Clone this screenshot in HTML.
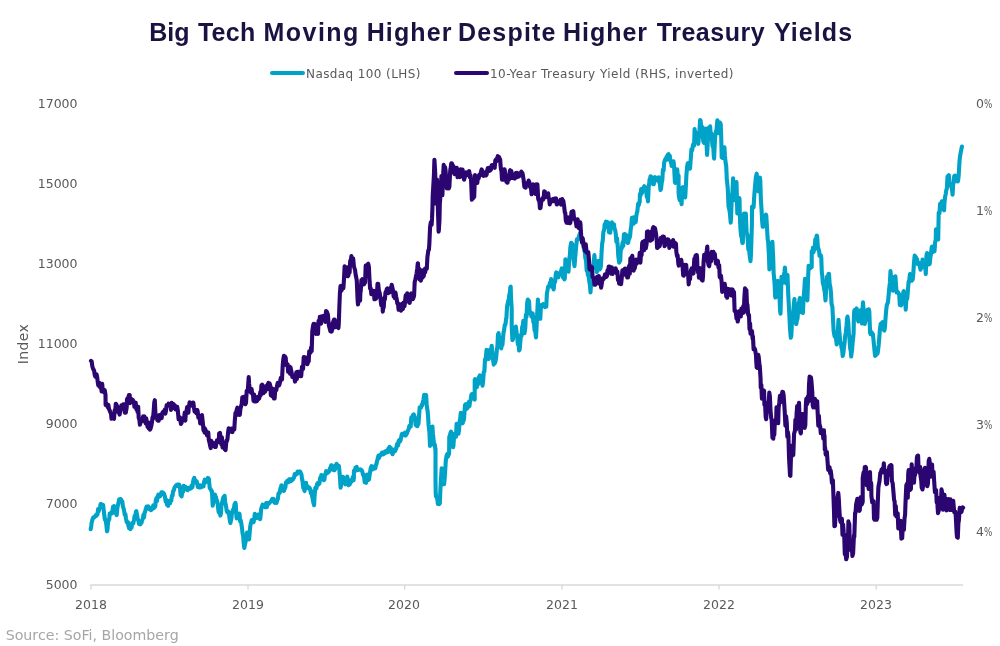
<!DOCTYPE html>
<html><head><meta charset="utf-8">
<style>
html,body{margin:0;padding:0;background:#fff;}
body{width:1000px;height:646px;position:relative;overflow:hidden;font-family:"DejaVu Sans","Liberation Sans",sans-serif;}
#title{position:absolute;left:0;top:14px;width:1000px;height:36px;font-family:"Liberation Sans",sans-serif;font-weight:bold;font-size:25px;color:#1b1242;white-space:nowrap;letter-spacing:0.87px;line-height:36px;}
.lg{position:absolute;top:65px;font-size:12px;color:#595959;white-space:nowrap;line-height:18px;letter-spacing:0.4px;}
.sw{position:absolute;top:70.9px;height:4.1px;border-radius:2px;width:35px;}
.yl{position:absolute;left:27px;width:50.5px;text-align:right;font-size:12.5px;color:#595959;line-height:14px;}
.yr{position:absolute;left:976px;font-size:12.5px;color:#595959;line-height:14px;}
.xl{position:absolute;top:597.5px;width:60px;text-align:center;font-size:12.5px;color:#595959;line-height:14px;}
#src{position:absolute;left:5.7px;top:625.8px;font-size:14.2px;color:#a6a6a6;line-height:18px;white-space:nowrap;}
#idx{position:absolute;left:22.6px;top:343.6px;font-size:14px;color:#595959;transform:translate(-50%,-50%) rotate(-90deg);white-space:nowrap;line-height:16px;letter-spacing:0.4px;}
svg{position:absolute;left:0;top:0;}
.pc{display:inline-block;transform:scaleX(.7);transform-origin:0 50%;}
#title span{position:absolute;top:0;}
</style></head><body>
<div id="title"><span style="left:149.3px;letter-spacing:-0.03px">Big</span> <span style="left:197.9px;letter-spacing:0.27px">Tech</span> <span style="left:263.6px;letter-spacing:1.43px">Moving</span> <span style="left:366.7px;letter-spacing:1.11px">Higher</span> <span style="left:458.0px;letter-spacing:1.20px">Despite</span> <span style="left:563.1px;letter-spacing:0.95px">Higher</span> <span style="left:656.8px;letter-spacing:0.50px">Treasury</span> <span style="left:773.9px;letter-spacing:1.11px">Yields</span></div>
<div class="sw" style="left:269.5px;background:#00a2c7;"></div><div class="lg" id="l1" style="left:306px;">Nasdaq 100 (LHS)</div>
<div class="sw" style="left:453.5px;background:#2c0670;"></div><div class="lg" id="l2" style="left:490px;letter-spacing:0.46px">10-Year Treasury Yield (RHS, inverted)</div>
<div class="yl" style="top:97px">17000</div>
<div class="yl" style="top:177px">15000</div>
<div class="yl" style="top:257px">13000</div>
<div class="yl" style="top:337px">11000</div>
<div class="yl" style="top:417px">9000</div>
<div class="yl" style="top:497px">7000</div>
<div class="yl" style="top:578px">5000</div>
<div class="yr" style="top:97px">0<span class="pc">%</span></div>
<div class="yr" style="top:204px">1<span class="pc">%</span></div>
<div class="yr" style="top:311.4px">2<span class="pc">%</span></div>
<div class="yr" style="top:417.9px">3<span class="pc">%</span></div>
<div class="yr" style="top:525.4px">4<span class="pc">%</span></div>
<div class="xl" style="left:61px">2018</div>
<div class="xl" style="left:218px">2019</div>
<div class="xl" style="left:374px">2020</div>
<div class="xl" style="left:532px">2021</div>
<div class="xl" style="left:689px">2022</div>
<div class="xl" style="left:846px">2023</div>
<div id="idx">Index</div>
<div id="src">Source: SoFi, Bloomberg</div>
<svg width="1000" height="646" viewBox="0 0 1000 646">
<g stroke="#d9d9d9" fill="none">
<path d="M90.3 585H963" stroke-width="1.6"/>
<path d="M91 585v4.5M248 585v4.5M404.7 585v4.5M562 585v4.5M719 585v4.5M876.2 585v4.5" stroke-width="1.4"/>
</g>
<!--LINES--><path d="M90.7 529.2 91.3 525.6 91.6 522.9 91.9 521.7 92.5 519.2 93.2 517.5 93.8 517.3 94.1 517.6 94.4 516.8 95.0 516.7 95.6 515.4 96.3 515.9 97.1 513.9 97.5 514.5 98.1 509.0 98.7 511.2 99.4 508.4 100.0 507.8 100.6 504.0 101.3 504.2 101.8 505.5 102.5 506.1 103.1 504.9 103.7 510.1 104.3 515.4 104.9 519.7 105.6 519.5 106.2 523.6 107.0 531.3 107.4 530.7 108.0 522.5 108.7 520.2 109.3 519.1 109.7 513.5 110.5 513.8 111.1 512.6 111.8 513.5 112.2 513.1 113.0 506.8 113.6 508.5 114.0 506.0 114.2 508.0 114.9 507.7 115.5 512.9 116.1 511.4 116.4 514.6 116.7 515.1 117.3 508.3 118.0 504.9 118.8 501.1 119.2 499.3 119.8 501.2 120.4 499.0 121.0 499.4 121.7 501.9 122.3 501.5 122.9 506.6 123.6 508.4 124.2 511.4 124.8 514.8 125.4 514.2 126.0 518.6 126.7 522.0 127.3 522.8 127.9 522.1 128.5 526.2 129.1 528.2 129.7 528.6 130.4 529.1 131.0 527.0 131.6 527.6 132.2 523.0 132.8 522.6 133.3 523.3 134.1 519.4 134.7 515.7 135.3 517.4 135.9 511.7 136.3 511.2 137.2 515.9 137.8 519.4 138.4 520.6 139.0 523.9 139.3 523.6 139.7 522.1 140.3 524.3 140.9 521.0 141.5 522.7 142.1 520.3 143.0 518.4 143.4 514.8 144.0 517.5 144.6 512.7 145.2 511.5 145.9 508.6 146.6 506.6 147.1 508.5 147.7 507.8 148.3 506.3 149.0 508.8 149.6 508.2 150.2 509.3 150.8 510.1 151.4 507.9 152.1 509.3 152.7 507.9 153.3 505.3 153.9 508.1 154.4 506.4 155.2 506.6 155.8 500.3 156.4 498.2 157.0 500.9 157.4 497.3 158.3 494.6 158.9 496.8 159.5 496.1 160.1 496.2 160.7 494.7 161.1 493.3 161.4 492.4 162.0 492.4 162.6 492.4 163.2 492.8 164.1 493.8 164.5 495.2 165.1 497.6 165.7 501.6 166.3 499.9 167.1 504.9 167.6 504.9 168.2 505.8 168.8 503.6 169.4 500.8 170.0 503.3 170.7 501.2 171.3 500.8 171.9 495.7 172.5 495.9 173.1 491.3 173.8 490.6 174.4 487.9 175.0 486.8 175.6 486.3 176.2 485.2 176.9 484.8 177.5 484.6 178.1 486.1 178.6 484.5 179.3 484.7 180.0 487.6 180.6 495.2 181.2 495.4 181.6 496.3 182.4 491.5 183.1 491.7 183.7 485.9 184.0 486.4 184.3 488.5 184.9 488.6 185.5 486.8 186.2 488.4 186.8 489.6 187.6 490.2 188.0 488.6 188.6 487.8 189.3 487.7 189.9 488.7 190.5 488.8 191.2 488.2 191.7 485.4 192.4 487.2 193.0 482.7 193.6 479.4 194.3 477.9 194.8 480.7 195.5 481.8 196.1 481.0 196.7 481.4 197.3 484.7 197.9 487.0 198.6 485.9 199.2 487.5 199.8 485.3 200.4 485.8 201.0 487.4 201.7 485.5 202.1 486.4 202.9 485.2 203.5 486.4 204.1 481.7 204.8 479.7 205.4 482.4 205.9 480.5 206.6 481.3 207.2 481.1 207.9 477.9 208.5 478.4 208.9 479.1 209.7 487.9 210.1 488.4 211.0 489.9 211.6 491.6 211.9 491.2 212.2 495.5 212.7 505.6 213.4 502.6 214.1 499.0 214.9 494.5 215.3 497.8 215.9 496.9 216.7 500.5 217.2 501.0 217.8 504.7 218.5 511.4 219.0 512.6 219.6 511.2 220.4 515.6 220.9 513.5 221.5 504.6 222.2 502.4 222.7 500.1 223.4 497.2 224.0 499.4 224.6 495.8 225.2 502.8 225.8 504.9 226.6 510.1 227.1 511.8 227.7 512.7 228.3 511.5 228.8 512.3 229.6 519.1 230.4 523.0 230.8 521.0 231.4 518.5 232.0 512.1 232.7 512.2 233.0 509.8 233.9 509.0 234.5 504.3 235.1 505.8 235.4 502.7 235.8 504.8 236.4 516.3 236.7 518.4 237.0 515.2 237.6 516.2 238.2 516.5 239.1 514.4 239.5 513.7 240.1 521.1 240.7 520.4 241.5 524.7 242.0 528.2 242.6 533.7 243.1 535.2 243.8 544.0 244.3 547.9 245.1 543.9 245.7 541.3 246.3 538.4 247.0 532.5 247.5 535.1 248.2 538.1 248.8 537.3 249.1 539.4 249.4 535.5 250.2 526.8 250.6 524.4 251.3 521.7 251.7 520.0 252.5 521.3 253.1 521.2 253.6 522.2 254.4 517.7 254.8 513.9 255.6 514.8 256.2 515.2 256.8 517.8 257.2 517.3 257.5 517.5 258.1 516.2 258.4 514.5 258.7 514.3 259.3 518.8 259.9 518.4 260.2 519.1 260.6 515.5 261.2 508.8 261.8 506.9 262.6 504.6 263.0 505.3 263.7 505.6 264.3 505.8 265.0 507.1 265.5 505.9 266.1 503.1 266.8 507.1 267.4 503.0 268.0 503.9 268.6 503.9 269.2 503.1 269.9 502.4 270.5 501.8 271.1 501.2 271.7 500.1 272.3 499.0 273.0 499.9 273.5 498.8 274.2 502.0 274.8 502.9 275.4 500.5 276.1 500.7 276.5 503.0 277.3 500.0 277.9 498.8 278.5 493.4 278.9 493.4 279.8 492.8 280.4 488.2 281.0 487.4 281.3 485.5 281.6 485.3 282.3 487.9 282.9 489.1 283.7 490.9 284.1 490.7 284.7 488.4 285.4 487.2 286.0 482.3 286.8 482.3 287.2 480.9 287.8 481.6 288.5 482.2 289.1 479.3 289.7 480.0 290.4 480.5 290.9 481.1 291.6 479.1 292.2 479.9 292.8 479.6 293.4 478.3 294.0 477.7 294.7 474.0 295.2 474.9 295.9 474.9 296.5 473.7 297.1 473.9 297.6 471.5 298.4 472.8 299.0 472.8 299.6 471.5 300.2 471.6 300.6 472.5 301.5 474.8 302.1 480.0 302.4 479.6 302.7 482.9 303.3 487.9 304.0 487.5 304.3 490.3 304.6 491.0 305.2 486.7 305.8 486.6 306.1 482.8 306.4 486.7 307.1 485.9 307.9 488.1 308.3 487.1 308.9 488.4 309.5 487.6 310.3 489.7 310.8 493.1 311.4 491.3 312.0 495.6 312.7 499.2 313.3 502.5 314.1 505.2 314.5 497.1 315.3 487.9 315.7 487.5 316.4 488.4 317.1 484.1 317.6 483.2 318.2 483.0 318.8 484.3 319.5 483.1 320.1 478.0 320.7 477.9 321.3 475.1 321.9 478.3 322.6 476.6 323.2 476.2 323.7 480.2 324.4 479.5 325.0 474.4 325.7 474.3 326.1 471.1 326.9 471.4 327.5 472.8 328.1 472.5 328.5 471.3 329.4 471.0 330.0 468.2 330.6 469.7 331.0 466.0 331.2 465.4 331.9 465.4 332.5 467.7 333.1 466.9 333.7 470.2 334.0 470.1 334.3 470.2 335.0 469.2 335.6 465.2 336.2 466.9 336.6 463.7 337.4 466.2 338.1 466.0 338.8 465.9 339.3 469.6 339.9 476.7 340.6 487.6 341.2 485.1 341.8 480.2 342.4 476.7 343.0 476.7 343.6 477.8 344.3 481.9 344.9 482.2 345.4 484.3 346.1 481.3 346.7 478.6 347.3 476.7 348.0 480.9 348.5 485.2 349.2 481.5 349.8 484.4 350.5 480.2 351.1 481.9 351.5 480.3 352.3 479.8 352.9 476.9 353.6 480.3 353.9 478.0 353.9 470.7 354.8 471.4 355.4 467.9 356.0 467.4 356.7 467.0 356.9 468.1 357.3 469.5 357.9 470.0 358.5 469.4 359.1 469.7 359.9 469.5 360.4 469.4 361.0 469.6 361.6 470.3 362.2 471.1 363.0 474.9 363.5 474.3 364.1 477.0 364.7 482.3 365.4 482.4 366.0 482.8 366.6 475.9 367.2 474.7 367.8 475.3 368.4 479.9 369.0 479.4 369.7 474.5 370.3 470.9 370.8 467.8 371.5 466.2 372.2 468.6 372.8 469.3 373.4 466.8 374.0 468.6 374.4 468.5 375.3 468.5 375.9 464.9 376.5 464.0 377.1 460.8 377.4 460.3 377.7 458.4 378.4 455.7 379.0 458.1 379.6 455.4 380.2 455.7 381.1 454.5 381.5 453.6 382.1 452.5 382.7 452.6 383.3 454.3 383.9 453.9 384.7 452.0 385.2 453.2 385.8 451.1 386.4 450.8 387.0 451.3 387.7 452.2 388.3 448.6 388.9 449.4 389.5 446.8 390.1 450.4 390.8 447.9 391.4 452.6 392.0 451.2 392.5 454.2 393.2 452.2 393.9 449.6 394.5 449.7 395.1 451.2 395.7 449.4 396.2 448.7 397.0 444.0 397.6 444.5 398.2 445.3 398.6 441.1 399.4 439.9 400.1 441.3 400.7 439.7 401.3 436.6 401.6 435.1 401.9 434.0 402.5 433.8 403.2 435.0 403.8 434.6 404.6 435.2 405.0 432.5 405.6 435.6 406.3 434.1 406.9 433.6 407.5 431.7 408.2 430.1 408.7 429.1 409.4 425.8 410.0 426.7 410.7 426.5 411.3 417.6 411.8 417.0 412.5 416.6 413.1 414.9 413.7 414.4 414.3 415.8 414.9 417.3 415.6 424.7 416.2 422.5 416.5 425.7 416.8 425.7 417.4 426.2 418.0 424.4 418.5 423.8 419.3 412.5 419.7 407.2 420.5 407.5 421.1 407.5 421.8 404.7 422.2 405.5 423.0 401.5 423.4 399.6 424.2 394.8 424.9 398.2 425.5 397.3 426.1 395.0 426.7 404.4 427.3 409.4 427.6 411.0 428.0 415.3 428.6 424.9 429.4 432.2 430.0 445.9 430.4 443.5 431.1 438.0 431.7 431.0 432.4 426.5 432.9 433.2 433.6 440.2 434.2 445.4 434.8 444.5 435.4 450.2 435.5 448.4 435.5 479.8 435.7 493.2 436.0 496.5 436.6 496.8 437.3 498.9 437.9 503.9 438.5 503.0 439.1 504.1 439.8 503.3 440.4 489.6 440.8 481.9 441.7 468.2 442.2 469.9 442.8 475.4 443.5 477.3 444.1 484.3 444.7 477.7 445.4 467.4 445.9 459.5 446.6 455.8 447.2 454.2 447.8 456.7 448.4 455.2 449.1 453.6 449.3 436.6 449.7 437.2 450.3 433.5 451.1 431.7 451.5 436.0 452.1 440.1 453.0 447.3 453.4 446.0 454.2 434.0 454.6 433.6 455.2 435.4 456.0 436.7 456.6 423.8 457.1 428.4 457.7 428.1 458.4 433.8 459.0 430.4 459.6 421.4 460.2 418.6 460.8 412.8 461.4 417.4 462.1 420.8 462.6 423.3 463.3 421.4 463.9 419.5 464.4 413.7 465.0 405.0 465.8 404.1 466.4 408.9 467.0 405.8 467.4 408.3 468.3 404.9 468.9 401.8 469.5 406.1 469.9 402.2 470.1 401.7 470.7 399.4 471.4 394.8 472.0 394.0 472.3 394.1 472.6 395.3 473.2 394.9 473.8 397.0 474.7 399.6 474.7 380.0 475.1 379.2 475.7 386.8 476.3 383.1 476.8 387.3 477.6 381.0 478.2 384.0 478.8 377.1 479.4 377.1 479.8 375.4 480.7 375.7 481.3 381.1 481.9 381.0 482.5 385.7 483.1 381.4 483.8 371.8 484.4 371.4 485.0 359.4 485.6 360.4 486.5 349.9 486.9 350.4 487.5 355.4 488.1 357.2 488.9 358.8 489.3 354.6 490.0 349.5 490.6 354.1 491.2 350.7 491.7 345.8 492.4 352.7 493.1 359.8 493.7 364.6 494.3 361.8 494.9 363.1 495.5 361.3 496.1 357.8 496.8 350.4 497.4 346.4 498.0 334.4 498.6 333.2 499.3 340.1 499.9 338.3 500.5 340.9 501.3 348.4 501.7 344.4 502.4 345.0 503.0 338.2 503.6 332.0 504.0 330.8 504.8 324.9 505.5 324.4 506.1 318.7 506.4 318.4 506.7 312.5 507.1 306.2 507.9 302.4 508.6 299.6 508.9 300.0 509.2 295.2 509.8 292.9 510.4 286.9 510.7 286.7 511.0 297.6 511.7 308.2 511.7 326.0 512.4 340.1 512.9 339.6 513.5 332.7 514.1 332.7 514.8 334.1 515.4 329.0 515.8 326.6 516.6 332.2 517.2 336.8 517.9 344.2 518.5 342.5 519.1 350.5 519.7 349.5 520.3 341.8 521.0 334.8 521.6 335.8 522.2 326.6 522.8 326.0 523.3 320.9 524.1 332.1 524.5 333.1 525.3 328.0 525.9 314.8 526.5 317.0 527.2 302.9 527.8 299.6 528.4 306.4 529.0 301.1 529.6 311.2 530.3 313.8 530.6 313.1 530.9 312.3 531.5 316.8 532.1 315.2 532.7 313.5 533.0 317.2 533.4 322.3 534.0 323.1 534.6 330.4 535.2 330.9 536.0 337.5 536.5 328.0 537.1 316.1 537.9 299.5 538.3 307.6 538.9 306.6 539.6 310.0 540.3 318.8 540.8 308.7 541.5 304.9 542.0 304.8 542.7 305.6 543.3 304.1 543.9 306.2 544.5 306.1 545.1 307.1 545.8 305.5 546.3 306.6 546.9 293.4 547.6 289.9 548.2 286.5 548.9 286.7 549.3 285.7 550.1 282.3 550.7 285.3 551.1 279.1 552.0 287.0 552.6 286.3 553.2 286.4 553.6 289.4 553.8 288.4 554.4 281.0 555.1 282.0 555.7 274.6 556.0 273.1 556.3 272.3 556.9 276.4 557.5 273.7 558.4 277.3 558.8 274.0 559.4 274.7 560.0 272.5 560.6 274.4 561.4 269.5 561.9 268.3 562.5 273.0 563.1 277.7 563.7 275.2 564.4 279.4 564.8 278.5 565.4 259.3 566.2 264.0 566.8 262.1 567.5 262.6 568.1 268.9 568.5 271.8 569.3 258.8 569.9 255.2 570.3 247.9 570.6 245.9 571.2 242.7 571.8 246.4 572.1 243.7 572.4 248.6 573.0 250.2 573.7 260.4 574.5 266.1 574.9 261.2 575.5 253.8 576.1 246.8 576.9 239.3 577.4 240.2 578.0 239.8 578.6 237.6 579.3 235.2 579.9 233.4 580.5 233.6 581.1 236.7 581.5 237.5 582.3 237.5 583.0 243.2 583.5 245.9 584.2 250.6 584.8 251.4 585.3 257.8 586.1 261.0 586.7 270.7 587.0 270.4 587.3 270.5 587.9 274.8 588.7 276.6 589.2 280.9 589.8 284.1 590.5 292.4 591.0 285.4 591.6 275.1 592.0 267.6 592.3 266.4 592.9 268.1 593.5 264.6 594.1 258.4 594.4 255.1 594.7 259.2 595.4 262.9 596.0 266.3 596.8 272.3 597.2 270.6 597.8 268.9 598.6 260.7 599.1 263.4 599.7 269.5 600.4 268.3 600.9 265.8 601.7 250.2 602.2 243.3 602.8 240.2 603.4 231.7 604.1 230.3 604.7 224.2 605.3 225.3 605.9 221.6 606.5 227.0 607.1 225.3 607.7 222.2 608.4 223.0 609.0 232.3 609.5 232.4 610.2 232.7 610.9 227.0 611.5 225.0 611.9 222.3 612.7 226.1 613.3 224.2 614.0 224.2 614.3 227.7 615.2 230.4 615.8 234.0 616.4 241.8 617.1 238.4 617.3 241.4 617.7 245.5 618.3 256.3 619.2 262.6 619.5 258.0 620.2 260.8 620.8 248.6 621.6 248.9 622.0 246.9 622.6 242.4 623.3 245.9 623.9 234.2 624.6 235.0 625.1 234.2 625.7 238.0 626.4 235.3 627.0 241.1 627.6 243.0 628.2 242.7 628.8 238.7 629.5 238.2 630.1 235.8 630.6 230.2 631.3 225.9 631.9 217.8 632.4 217.9 633.2 217.3 633.8 223.7 634.2 222.9 635.0 219.6 635.7 222.0 636.3 215.9 636.9 212.4 637.3 211.8 638.1 203.9 638.8 205.2 639.4 201.6 639.7 202.1 639.9 194.0 640.6 195.4 641.2 189.0 641.9 193.2 642.5 190.9 642.9 190.8 643.7 187.2 644.3 186.2 645.0 188.0 645.6 190.4 646.0 187.5 646.8 196.8 647.4 195.6 648.0 201.4 648.7 186.9 649.3 182.4 649.6 179.3 649.9 180.4 650.5 176.3 651.4 177.8 651.8 177.4 652.4 177.4 653.0 184.1 653.8 184.2 654.3 179.8 654.9 179.2 655.3 177.2 656.1 179.4 656.7 178.8 657.4 180.3 658.0 177.6 658.6 177.4 659.2 182.3 659.8 183.1 660.5 190.0 661.0 189.1 661.7 182.7 662.3 180.3 662.9 169.8 663.6 170.7 664.2 162.4 664.8 160.6 665.4 159.1 665.9 159.7 666.7 156.4 667.3 159.6 667.9 154.5 668.5 154.2 669.1 159.5 669.5 155.6 669.8 155.7 670.4 160.6 671.0 162.7 671.3 163.2 671.6 166.0 672.2 166.0 672.9 165.1 673.5 161.3 673.7 162.6 674.1 166.6 674.9 182.0 675.3 182.8 676.0 172.9 676.7 170.1 677.2 169.3 677.8 176.6 678.6 175.6 678.6 193.3 679.1 197.4 679.7 200.1 680.3 199.3 680.9 199.0 681.6 204.2 682.2 187.7 682.8 187.1 683.4 193.8 684.0 195.4 684.6 194.5 685.2 197.4 685.9 185.5 686.4 175.2 687.1 166.8 687.7 163.4 688.2 163.6 689.0 162.9 689.6 168.7 690.0 168.7 690.8 158.6 691.4 149.3 692.1 150.5 692.7 146.8 693.3 144.0 694.1 145.7 694.6 129.1 695.2 135.8 695.8 140.6 696.4 132.5 697.0 138.0 697.3 142.3 697.7 140.7 698.3 143.8 699.0 135.8 699.5 130.7 700.1 120.0 700.6 120.6 701.4 128.2 702.2 127.0 702.6 132.7 703.3 141.4 703.9 142.8 704.5 139.9 705.1 131.7 705.5 128.5 706.3 139.9 707.1 154.9 707.6 145.6 708.2 132.8 708.7 127.9 709.4 131.1 710.1 126.3 710.7 134.1 711.4 133.5 711.9 138.9 712.5 146.2 713.2 146.0 713.8 155.9 714.1 158.6 715.0 138.7 715.8 131.5 716.3 133.0 716.9 125.5 717.4 120.2 718.1 124.8 718.5 131.8 718.7 133.1 719.4 127.6 720.0 122.5 720.7 124.1 721.2 137.2 721.7 157.5 722.5 157.9 723.1 152.0 723.7 151.2 724.4 147.3 724.9 155.2 725.5 161.9 726.2 165.9 726.8 179.1 727.4 184.9 727.7 187.6 728.0 192.7 728.5 206.3 729.3 209.3 729.9 213.0 730.7 222.7 731.1 216.3 731.9 194.3 732.4 193.3 733.1 178.2 733.6 188.6 734.3 200.3 734.9 196.8 735.5 185.2 736.1 187.7 736.5 182.1 737.3 213.5 738.0 206.0 738.6 208.0 739.2 198.1 739.5 198.7 739.8 214.0 740.4 228.1 741.1 235.8 741.7 237.0 742.3 242.9 742.8 242.9 743.5 222.5 744.0 213.6 744.8 215.3 745.4 213.7 745.8 213.6 746.6 232.9 747.3 234.2 747.9 242.1 748.3 249.5 749.1 249.2 749.7 255.7 750.5 261.2 751.0 253.5 751.6 233.7 751.9 224.7 752.0 206.8 752.2 206.5 752.8 206.5 753.6 207.5 754.1 198.2 754.8 189.0 755.3 183.7 755.9 176.9 756.7 173.7 757.2 183.2 757.9 189.9 758.4 191.4 759.0 185.8 759.7 182.4 759.9 177.6 760.3 181.1 760.9 200.2 761.5 208.9 762.1 220.5 762.7 226.7 763.4 226.6 764.0 224.3 764.5 221.0 765.2 219.8 765.9 214.5 766.3 215.6 767.1 229.5 767.7 239.6 768.1 240.9 769.0 256.5 769.4 269.5 770.2 250.6 770.6 243.5 771.4 243.3 772.1 243.7 772.4 241.8 773.3 260.6 773.6 272.8 773.9 275.9 774.5 282.5 775.2 296.5 775.4 297.5 775.8 296.9 776.4 290.9 777.0 283.1 777.9 280.8 778.3 285.6 778.9 290.8 779.5 296.9 780.1 310.7 780.5 313.6 781.5 276.7 782.0 282.6 782.7 282.9 783.2 282.7 783.8 276.5 784.5 271.5 784.9 267.5 785.7 276.8 786.3 283.4 786.9 276.8 787.5 274.9 788.2 293.6 788.7 302.8 789.4 316.2 790.0 328.6 790.8 337.7 791.3 336.0 791.9 323.7 792.5 322.7 793.1 314.5 793.8 305.1 794.4 299.1 795.0 308.5 795.6 318.6 796.2 324.0 796.9 320.3 797.5 318.8 798.1 311.3 798.7 303.5 799.3 301.2 799.8 298.1 800.6 306.3 801.2 304.0 801.8 312.5 802.4 311.4 802.9 313.0 803.7 296.8 804.3 289.6 805.0 278.9 805.5 284.9 806.2 288.2 806.8 298.6 807.4 300.3 808.0 280.5 808.6 265.9 809.3 266.1 809.9 266.9 810.5 268.2 811.1 267.0 811.7 267.2 811.7 251.3 812.4 253.2 813.0 247.5 813.6 252.1 814.2 247.5 814.7 249.4 815.3 239.3 816.1 240.3 816.7 235.6 817.1 236.1 817.9 247.3 818.6 249.3 819.2 251.7 819.5 255.8 819.8 255.0 820.4 254.9 821.0 255.7 821.3 258.1 821.7 269.8 821.9 273.5 822.3 275.6 822.9 283.6 823.5 285.1 824.1 288.6 824.8 292.4 825.5 300.5 826.0 291.4 826.6 282.8 827.0 276.7 827.9 277.9 828.5 273.8 829.0 273.8 829.7 284.3 830.3 286.7 831.0 293.2 831.5 303.4 832.4 307.0 832.8 315.0 833.6 330.6 834.1 333.7 834.7 336.5 835.3 336.7 835.9 337.4 836.7 344.5 837.2 337.3 837.8 331.5 838.5 319.7 839.0 327.6 839.6 334.1 840.3 342.8 840.9 343.2 841.5 347.6 842.1 349.7 842.7 356.0 843.4 352.9 844.0 347.0 844.6 342.5 845.1 336.4 845.8 332.5 846.5 325.9 847.1 318.5 847.5 316.6 848.3 322.5 848.9 334.4 849.3 336.2 850.2 348.5 850.8 351.0 851.2 356.5 851.4 354.1 852.0 350.4 852.7 341.8 853.3 336.8 853.6 333.6 853.9 318.1 854.2 311.6 854.5 310.2 855.1 311.1 855.8 312.6 856.6 308.4 857.0 310.5 857.6 318.3 858.4 321.4 858.9 318.2 859.5 318.0 860.1 312.7 860.8 310.0 861.3 315.7 862.0 323.5 862.6 308.6 863.0 302.4 863.8 313.5 864.4 320.2 864.8 323.9 865.1 322.5 865.7 320.2 866.3 318.5 866.8 312.0 867.5 309.9 868.2 310.2 868.8 309.3 869.3 311.5 870.1 333.0 870.6 334.2 871.3 331.9 871.9 332.8 872.5 334.3 872.9 334.1 873.7 342.0 874.4 349.3 875.1 355.9 875.6 355.7 876.2 354.5 876.8 352.3 877.5 353.7 877.9 351.6 878.7 344.7 879.3 337.5 879.9 329.6 880.7 323.7 881.2 324.8 881.8 323.0 882.5 322.2 883.0 323.9 883.7 329.5 884.4 330.5 884.9 327.5 885.5 318.6 886.2 310.1 886.8 305.3 887.4 303.7 888.0 302.0 888.7 294.5 889.2 288.6 889.9 282.7 890.5 271.1 891.1 279.5 891.7 276.4 892.3 283.3 892.9 290.7 893.6 288.9 894.2 283.7 894.8 282.1 895.4 276.2 896.1 286.6 896.7 292.5 897.2 292.2 897.9 292.0 898.5 293.1 899.2 294.5 899.8 305.0 900.4 299.2 901.1 305.4 901.6 304.0 902.3 299.1 902.9 294.8 903.5 291.7 903.8 291.1 904.1 298.0 904.7 302.3 905.4 302.2 905.7 309.7 906.0 305.2 906.6 297.0 907.2 298.8 907.8 291.9 908.6 281.6 909.1 282.0 909.9 274.3 910.3 273.8 910.9 280.7 911.6 280.7 912.3 280.0 912.8 279.0 913.4 272.2 914.0 262.5 914.7 255.6 915.3 258.2 915.9 257.0 916.5 258.9 917.1 259.4 917.8 264.1 918.3 263.4 919.0 262.9 919.6 264.3 920.5 269.7 920.9 267.1 921.5 267.9 922.1 266.3 922.5 259.6 923.3 263.6 924.0 263.6 924.3 263.0 925.2 265.1 925.8 274.0 926.4 256.2 926.8 253.8 927.1 253.2 927.7 254.9 928.3 257.5 928.9 264.4 929.8 263.6 930.2 258.3 930.8 255.1 931.6 248.1 932.0 246.5 932.6 250.8 933.3 251.8 934.0 250.8 934.5 251.1 935.1 242.5 935.8 239.4 935.9 229.3 936.4 229.1 937.0 238.9 937.6 234.2 938.2 239.4 938.7 212.9 939.5 213.2 940.1 203.8 940.7 209.6 941.3 204.7 941.8 201.2 942.6 202.9 943.2 203.4 943.8 209.0 944.1 210.3 944.4 203.9 945.0 197.4 945.7 194.1 946.3 190.0 946.9 188.7 947.5 176.7 948.0 176.2 948.8 175.2 949.4 181.3 950.0 185.4 950.3 185.2 950.6 183.7 951.2 186.0 951.9 188.6 952.6 194.7 953.1 184.3 953.7 182.3 954.2 176.1 955.0 175.7 955.6 179.7 956.2 177.4 956.8 177.9 957.4 181.5 958.0 181.3 958.7 175.4 959.3 164.6 959.6 160.7 959.9 157.3 960.5 153.6 961.2 150.1 961.9 146.6" fill="none" stroke="#00a2c7" stroke-width="4.1" stroke-linejoin="round" stroke-linecap="round"/>
<path d="M91.0 360.9 91.7 361.5 92.3 366.2 92.8 368.0 93.5 369.6 94.1 370.6 94.7 374.8 95.4 376.7 96.0 374.3 96.6 374.3 97.1 376.8 97.9 383.3 98.3 385.5 99.1 386.0 99.7 383.0 100.3 387.8 101.0 388.1 101.3 385.0 101.6 391.5 102.2 383.8 102.8 391.2 103.1 391.4 103.4 391.8 104.1 390.0 104.7 390.0 105.5 394.9 105.6 405.0 105.9 403.3 106.5 403.4 107.2 405.5 107.8 407.4 108.4 405.1 109.1 409.4 109.6 410.2 110.3 412.2 111.0 413.8 111.5 418.8 112.1 417.5 112.8 417.0 113.4 418.4 114.0 418.8 114.6 410.4 115.2 411.5 115.8 403.7 116.4 404.5 117.1 406.0 117.7 408.6 118.2 412.1 118.9 411.7 119.6 414.6 120.2 411.4 120.6 410.2 121.4 405.3 121.8 406.2 122.7 405.8 123.3 404.4 123.9 405.8 124.5 404.4 124.8 412.5 125.1 412.7 125.8 412.7 126.4 409.1 126.7 407.3 127.0 399.2 127.9 397.9 128.2 398.1 128.9 395.1 129.7 395.0 130.1 403.1 130.7 398.5 131.5 401.9 132.0 400.4 132.6 399.7 133.2 400.6 133.9 402.0 134.4 406.7 135.1 405.3 135.7 402.8 136.3 409.1 136.9 406.3 137.5 411.8 138.2 406.8 138.7 417.9 139.4 419.9 139.9 424.8 140.6 421.9 141.3 419.6 141.9 421.3 142.3 420.3 143.1 416.4 143.7 418.0 144.4 416.3 144.8 419.9 145.6 423.3 146.2 418.3 146.8 421.8 147.2 423.9 147.5 426.7 148.1 422.5 148.7 428.4 149.0 427.8 149.3 422.9 149.9 429.6 150.6 428.4 151.4 425.4 151.8 423.2 152.6 417.1 153.0 418.8 153.7 410.9 154.3 402.3 154.8 400.2 155.5 414.8 156.2 415.6 156.8 417.6 157.4 420.2 158.0 420.7 158.6 420.8 159.2 415.1 159.9 418.9 160.5 417.0 161.1 417.0 161.7 418.0 162.3 413.0 163.0 412.0 163.5 413.8 164.2 410.9 164.8 409.6 165.4 413.7 165.9 411.2 166.7 405.0 167.3 405.0 167.7 405.7 168.5 403.7 169.2 404.2 169.8 405.5 170.4 406.0 170.7 406.2 171.0 409.9 171.6 402.7 172.3 404.0 172.9 407.9 173.5 404.0 174.3 408.1 174.7 405.2 175.4 409.5 176.0 409.0 176.8 408.5 177.2 406.8 177.8 410.3 178.6 419.2 179.1 417.4 179.7 417.4 180.3 419.5 180.9 423.9 181.6 422.8 182.2 418.3 182.8 418.3 183.4 418.8 184.0 419.7 184.7 412.6 185.3 420.6 185.9 412.2 186.4 411.8 187.1 407.1 187.8 411.0 188.4 412.7 188.8 407.2 189.6 402.2 190.2 404.2 190.9 403.5 191.2 403.7 192.1 405.7 192.7 402.6 193.3 402.6 194.0 407.8 194.3 409.6 194.6 411.6 195.2 411.8 195.8 409.8 196.4 413.3 197.3 410.0 197.7 411.4 198.3 417.6 199.1 417.1 199.5 415.9 200.2 423.4 200.8 418.4 201.4 423.5 202.0 415.1 202.7 421.5 203.5 430.2 203.9 427.4 204.5 432.6 205.1 428.7 205.9 431.8 206.4 431.3 207.0 435.4 207.6 432.5 208.3 432.6 208.8 439.9 209.5 442.6 210.1 445.6 210.7 448.1 211.3 440.8 211.9 444.0 212.6 444.5 213.1 442.7 213.8 444.3 214.4 446.4 215.0 447.0 215.7 447.0 216.1 445.0 216.9 440.3 217.5 441.3 217.9 442.0 218.8 441.8 219.1 433.5 220.0 432.9 220.6 437.9 221.0 438.4 221.2 444.2 221.9 437.4 222.5 447.4 222.8 446.8 223.1 445.0 223.7 445.0 224.6 449.1 225.0 443.0 225.6 450.2 226.4 440.6 226.8 441.4 227.4 439.5 228.2 431.4 228.7 428.3 229.3 432.0 229.9 429.1 230.6 430.2 231.2 430.4 231.8 428.5 232.4 432.1 233.0 428.4 233.6 428.7 234.3 429.3 234.8 420.8 235.5 412.8 236.1 415.4 236.7 409.7 237.4 407.6 238.0 414.8 238.6 414.8 239.1 412.9 239.8 414.8 240.5 408.4 240.9 406.9 241.7 404.1 242.3 397.4 242.7 397.9 243.6 396.8 244.2 396.8 244.8 400.6 245.4 404.3 245.7 402.0 246.0 403.1 246.7 390.7 246.9 391.3 247.3 392.1 247.9 389.4 248.7 377.1 249.1 383.5 249.9 390.7 250.4 388.7 251.0 392.7 251.6 388.9 252.2 393.6 253.0 394.5 253.5 400.8 254.1 394.5 254.7 401.5 255.4 401.3 256.0 401.5 256.6 401.2 257.2 400.8 257.8 396.9 258.4 399.1 259.1 398.6 259.7 396.5 260.3 392.0 260.8 395.2 261.4 385.6 262.2 384.6 262.8 393.2 263.4 393.2 264.0 390.6 264.6 390.7 265.0 391.9 265.9 386.1 266.5 386.7 267.1 385.7 267.4 384.9 267.7 389.3 268.4 382.9 269.0 385.4 269.6 383.4 270.5 386.5 270.8 395.2 271.5 388.5 272.1 396.1 272.7 388.9 273.5 396.9 273.9 398.5 274.6 398.5 275.3 389.1 275.8 390.7 276.4 389.8 277.0 386.0 277.7 382.9 278.3 383.1 278.9 385.5 279.5 384.3 280.1 381.7 280.8 377.8 281.3 379.3 282.0 379.5 282.7 365.5 283.2 360.1 283.9 355.8 284.2 356.4 285.1 356.6 285.7 357.9 286.3 365.1 287.0 364.2 287.6 364.2 288.1 371.8 288.8 371.1 289.4 366.6 290.1 373.8 290.5 367.2 291.3 371.3 291.9 373.9 292.3 377.0 293.2 376.3 293.8 375.7 294.4 377.3 294.7 379.7 295.0 381.6 295.6 379.6 296.3 372.3 296.9 378.9 297.2 371.8 297.5 373.8 298.1 373.5 298.7 371.8 299.6 375.9 300.0 376.2 300.6 376.2 301.2 376.2 302.0 366.8 302.5 366.2 303.1 368.9 303.7 357.0 304.3 357.0 305.0 358.1 305.6 361.6 306.2 357.5 306.8 358.1 307.4 364.3 308.0 362.0 308.7 361.4 309.2 351.3 309.9 352.3 310.5 352.6 311.1 347.4 311.7 351.1 312.3 331.0 313.0 326.2 313.6 323.8 314.1 324.1 314.9 324.0 315.5 331.9 316.1 333.9 316.7 329.1 317.1 332.2 317.3 329.0 318.0 333.9 318.6 320.7 319.2 320.7 319.5 322.3 319.8 316.8 320.4 317.6 321.1 323.7 321.7 316.4 322.3 319.4 323.1 317.2 323.5 315.9 324.3 320.2 324.8 315.9 325.4 321.9 326.0 311.1 326.7 311.5 327.3 312.9 327.9 314.7 328.6 323.2 329.1 326.3 329.7 328.6 330.4 331.2 331.0 329.5 331.6 331.6 332.2 329.7 332.8 323.2 333.4 321.3 334.1 319.5 334.7 319.5 335.3 327.3 335.8 325.9 336.6 323.7 337.2 325.7 337.8 323.3 338.4 328.1 338.8 323.5 339.4 305.7 339.9 293.5 340.5 286.2 340.9 285.8 341.5 290.6 342.1 288.9 342.9 288.2 343.4 288.2 344.1 277.1 344.6 266.4 345.4 267.6 345.9 269.1 346.5 273.6 347.1 267.3 347.7 276.3 348.4 275.5 349.0 271.2 349.6 272.7 350.2 260.8 350.8 260.6 351.4 256.1 352.1 260.0 352.7 261.4 353.2 258.6 353.9 266.2 354.5 268.3 355.0 269.8 355.8 275.7 356.4 278.3 356.8 280.9 357.6 300.0 358.0 304.5 358.9 298.5 359.5 295.9 360.1 300.7 360.4 291.9 360.7 291.5 361.4 280.1 362.0 280.3 362.3 279.2 362.6 284.8 363.2 280.9 364.1 284.3 364.5 283.3 365.1 282.4 365.7 265.6 366.5 267.6 366.9 270.4 367.6 264.2 368.2 263.7 368.9 267.0 369.4 277.8 370.1 288.5 370.7 288.3 371.3 294.1 371.9 291.5 372.5 294.1 373.1 292.2 373.8 290.9 374.4 299.3 375.0 299.3 375.6 296.2 376.1 298.6 376.9 295.2 377.5 283.8 378.2 283.8 378.7 289.3 379.3 292.1 379.8 293.4 380.6 299.6 381.2 305.1 381.6 304.7 382.4 303.0 382.8 311.6 383.1 308.1 383.7 307.6 384.3 298.4 384.6 297.3 384.9 299.3 385.5 292.3 386.4 291.0 386.8 289.0 387.4 288.3 388.0 288.9 388.6 293.1 389.4 291.1 389.9 292.1 390.5 287.8 391.1 291.5 391.7 284.8 392.2 287.1 393.0 290.4 393.6 296.4 394.2 293.4 394.8 298.2 395.5 292.6 396.1 296.4 396.7 299.0 397.3 303.5 397.9 303.0 398.6 309.7 399.2 306.8 399.8 304.6 400.3 309.1 401.0 310.6 401.7 308.2 402.1 303.9 402.9 309.0 403.5 302.5 404.1 304.0 404.5 306.2 405.4 298.2 405.7 295.2 406.0 302.0 406.6 296.6 407.2 293.3 407.9 300.5 408.1 301.3 408.5 298.0 409.1 295.4 409.7 302.9 410.3 294.9 411.2 293.5 411.6 294.9 412.2 297.7 412.8 299.2 413.6 297.4 414.1 295.5 414.7 281.9 415.4 279.7 415.9 276.7 416.6 273.3 417.2 269.0 417.8 263.2 418.0 263.5 418.4 273.0 419.0 268.6 419.6 279.4 420.3 279.2 420.9 280.6 421.5 270.4 422.0 270.9 422.7 277.6 423.4 272.1 423.8 276.0 424.6 269.1 425.2 272.2 425.8 268.0 426.5 268.0 426.8 268.8 427.4 257.3 428.3 250.4 428.9 249.9 429.3 244.6 429.6 237.9 430.1 226.8 430.8 222.2 431.6 224.8 432.0 218.9 432.4 209.1 432.7 195.9 433.2 187.7 433.9 175.7 434.4 159.7 435.1 170.5 435.5 181.9 435.8 203.5 436.4 198.2 437.0 179.6 437.6 199.3 438.0 211.8 438.2 218.0 438.6 231.7 438.9 229.7 439.5 219.1 439.8 203.8 440.1 200.3 440.7 190.8 441.4 176.1 442.0 188.2 442.4 195.1 443.2 174.5 443.7 164.8 444.4 169.6 445.1 167.2 445.5 170.0 446.3 180.2 446.6 185.8 446.9 188.4 447.5 187.6 448.2 185.5 448.8 188.4 449.4 186.6 450.2 170.8 450.6 168.4 451.3 163.2 451.9 163.2 452.2 164.3 452.5 166.2 453.1 165.6 453.7 172.1 454.1 173.3 454.4 174.0 455.0 167.8 455.6 167.8 456.4 168.5 456.8 167.8 457.5 177.1 458.1 171.1 458.7 176.5 459.3 174.8 459.9 177.1 460.6 169.2 461.2 170.6 461.8 171.1 462.6 169.6 463.0 174.4 463.7 177.0 464.1 179.8 464.9 176.7 465.5 173.6 466.1 172.4 466.4 172.9 466.8 175.3 467.4 174.8 468.0 172.4 468.6 173.0 469.2 171.2 469.5 173.3 469.9 177.2 470.5 175.1 471.1 180.9 471.9 199.8 472.3 198.4 473.0 198.5 473.6 195.2 474.2 196.8 475.0 175.0 475.4 176.7 476.1 176.7 476.7 176.6 477.3 183.0 477.9 177.5 478.5 178.4 478.8 178.0 479.2 174.7 479.8 175.3 480.4 174.2 481.0 171.8 481.6 169.4 481.9 169.8 482.3 175.1 482.9 172.5 483.5 175.9 484.2 175.6 484.7 172.3 485.4 173.1 486.0 175.4 486.6 174.7 487.3 169.9 487.8 168.0 488.5 168.9 489.1 167.9 489.7 170.8 490.3 170.2 490.9 169.7 491.6 165.6 492.0 165.1 492.8 165.3 493.4 165.1 494.0 167.1 494.3 167.4 494.7 167.8 495.3 160.4 495.9 159.6 496.5 161.0 497.1 158.2 497.8 156.2 498.2 157.9 499.0 157.0 499.6 158.4 500.2 159.6 500.5 165.1 500.9 168.7 501.5 171.3 502.0 179.6 502.7 177.7 503.3 179.7 504.0 169.3 504.6 169.3 504.8 170.6 505.2 173.2 505.8 178.2 506.4 181.9 507.1 177.7 507.5 182.8 508.3 175.9 508.9 179.8 509.8 171.5 510.2 170.1 510.8 177.1 511.4 171.1 512.1 178.0 512.6 177.3 513.3 177.6 513.9 178.2 514.5 178.5 515.2 175.5 515.7 173.1 516.4 177.5 517.0 172.8 517.6 176.5 518.3 174.3 518.8 176.6 519.5 174.8 520.1 173.3 520.7 175.4 521.3 171.6 522.1 172.7 522.6 173.5 523.2 177.3 523.6 179.8 524.4 186.9 525.1 186.1 525.7 187.7 526.3 183.2 527.1 184.1 527.5 184.9 528.1 184.9 528.6 180.6 529.4 182.4 530.0 186.9 530.6 186.1 531.2 190.1 531.6 194.3 532.5 190.1 533.1 184.4 533.6 185.7 534.3 188.9 535.2 193.0 535.6 194.0 536.2 184.4 536.8 191.2 537.2 184.6 537.4 184.4 538.2 198.8 538.7 200.3 539.3 200.0 539.9 208.1 540.2 207.1 540.5 208.1 541.2 202.3 541.7 200.1 542.4 198.5 543.0 199.7 543.6 198.2 544.2 191.4 544.9 191.8 545.7 196.2 546.1 197.2 546.7 195.0 547.4 195.6 548.0 196.2 548.2 193.4 548.6 197.4 549.2 199.2 549.7 204.4 550.5 201.1 551.2 201.8 551.7 199.8 552.3 200.6 552.9 199.0 553.6 201.2 554.3 198.6 554.8 200.0 555.4 199.1 556.0 198.4 556.8 204.5 557.3 202.0 557.9 203.1 558.5 203.5 559.1 203.5 559.8 201.6 560.4 199.8 561.0 204.6 561.6 202.4 562.2 199.0 562.9 203.0 563.3 200.8 564.1 206.0 564.8 212.5 565.3 213.1 565.8 220.6 566.6 222.7 567.2 222.9 567.8 220.2 568.4 217.4 568.9 219.7 569.7 223.2 570.3 223.0 570.9 219.2 571.5 211.8 572.2 214.6 572.8 212.6 573.3 211.1 574.0 218.0 574.6 219.3 575.3 220.3 575.7 221.1 576.5 226.5 577.1 219.4 577.7 219.4 578.1 225.1 579.0 228.2 579.6 227.0 580.2 222.2 580.5 224.6 580.8 230.5 581.2 235.4 582.1 242.8 582.7 238.5 583.3 241.8 583.6 244.9 583.9 247.2 584.6 247.0 585.2 251.3 585.8 244.4 586.6 252.6 587.0 251.6 587.7 253.3 588.3 252.1 589.1 261.3 589.5 269.1 590.1 269.6 590.8 266.2 591.5 268.2 592.0 267.3 592.6 276.8 593.3 277.8 593.9 278.7 594.5 284.8 595.1 284.8 595.7 284.1 596.3 280.2 597.0 276.9 597.5 277.6 598.2 282.8 598.8 276.0 599.3 283.7 600.1 281.8 600.7 283.0 601.1 287.7 601.9 283.0 602.5 278.2 603.2 278.2 603.5 279.1 604.4 277.7 605.0 274.2 605.6 274.2 606.0 275.8 606.3 276.9 606.9 276.0 607.5 270.3 607.8 270.7 608.1 273.1 608.7 266.5 609.4 266.5 610.2 268.4 610.6 267.4 611.2 273.7 611.8 267.3 612.6 274.0 613.1 270.2 613.7 269.7 614.4 269.9 614.9 271.8 615.6 268.3 616.2 270.3 616.8 273.5 617.4 271.5 618.0 280.0 618.7 279.8 619.2 283.8 619.9 280.7 620.5 277.0 621.1 284.1 621.7 278.6 622.4 270.2 623.0 274.5 623.6 269.7 624.1 271.6 624.9 268.6 625.5 273.9 626.1 275.6 626.5 274.1 627.3 277.5 628.0 277.4 628.3 275.3 628.6 267.6 629.2 265.8 629.8 273.7 630.1 266.5 630.4 258.2 631.1 267.2 631.9 257.0 632.3 255.8 632.9 264.4 633.7 270.7 634.2 264.5 634.8 268.2 635.4 263.8 636.1 259.6 636.6 263.8 637.3 261.6 637.9 260.0 638.6 261.8 639.1 260.4 639.7 252.9 640.4 262.6 641.0 254.0 641.6 255.1 642.2 242.9 642.8 241.8 643.5 243.9 644.1 250.3 644.7 240.7 645.3 246.4 645.8 248.3 646.6 244.2 647.0 231.6 647.8 231.3 648.4 236.9 649.0 236.4 649.7 239.0 650.3 240.7 650.6 240.4 650.9 231.9 651.5 237.0 652.1 239.7 652.4 232.0 652.8 228.3 653.4 227.1 654.0 231.7 654.9 228.1 655.2 229.0 655.9 233.1 656.7 239.7 657.1 247.9 657.7 247.9 658.5 246.3 659.0 241.4 659.6 246.3 660.2 243.6 660.9 237.8 661.4 241.0 662.1 240.3 662.7 236.5 663.3 240.0 663.9 236.8 664.5 246.2 665.2 245.3 665.8 239.5 666.3 239.9 667.0 239.5 667.6 243.9 668.3 239.5 668.9 242.3 669.3 247.9 670.1 245.6 670.7 245.8 671.4 241.6 672.0 244.5 672.4 242.1 673.2 240.1 673.8 246.7 674.5 242.4 674.8 245.7 675.1 242.7 675.7 246.5 676.0 243.8 676.3 251.4 676.9 255.5 677.2 256.5 677.6 255.2 678.4 264.2 678.8 265.6 679.4 264.0 680.0 262.6 680.8 259.9 681.3 259.8 681.9 264.7 682.5 265.7 683.2 275.4 683.8 275.7 684.4 268.5 685.0 264.9 685.6 265.8 686.2 264.9 686.9 274.0 687.5 272.1 688.1 273.8 688.7 284.4 689.3 278.2 690.0 279.2 690.6 273.0 691.1 269.9 691.8 268.3 692.4 272.9 693.1 272.6 693.5 273.5 694.3 258.8 694.7 260.9 695.5 255.7 696.2 255.1 696.8 255.1 697.1 257.4 697.4 266.9 698.0 272.3 698.6 271.1 698.9 277.6 699.3 268.4 699.9 268.0 700.6 268.6 701.1 277.0 701.7 279.7 702.6 280.6 703.0 276.5 703.6 261.7 704.2 254.8 704.8 260.8 705.5 255.2 706.1 254.3 706.7 251.1 707.3 246.6 707.9 261.5 708.6 265.3 709.2 266.3 709.8 261.5 710.6 260.6 711.0 261.3 711.7 251.9 712.3 253.6 712.6 253.0 712.9 258.0 713.5 251.9 714.1 257.3 714.8 253.9 715.2 258.1 716.0 263.6 716.6 263.8 717.2 262.7 717.9 260.9 718.5 267.5 719.2 265.2 719.7 276.9 720.3 277.9 720.7 276.5 721.0 275.7 721.6 281.9 722.2 292.0 722.8 288.6 723.4 289.0 724.2 285.5 724.7 283.8 725.3 287.5 725.9 289.6 726.2 296.5 726.5 288.9 727.2 297.8 727.8 288.9 728.4 293.2 729.2 290.7 729.6 289.3 730.3 294.9 730.9 294.4 731.5 295.5 732.1 289.2 732.7 289.7 733.3 294.0 734.0 291.9 734.6 311.0 735.1 310.5 735.8 312.2 736.5 318.5 737.1 313.0 737.7 321.5 738.2 319.0 738.9 311.3 739.6 313.7 740.2 312.0 740.5 312.2 740.8 316.5 741.4 308.5 742.0 309.2 742.8 313.0 743.3 306.0 743.9 312.4 744.3 298.8 745.0 288.4 745.8 289.5 746.4 290.1 747.0 304.8 747.4 304.3 748.2 314.9 749.0 315.0 749.5 329.2 750.1 323.5 750.5 333.6 751.3 331.1 752.0 331.1 752.6 338.8 752.9 336.3 753.2 341.3 753.6 349.3 754.4 348.1 755.1 349.6 755.7 353.4 756.0 355.2 756.3 362.1 756.7 367.7 757.5 368.0 758.3 354.9 758.8 357.7 759.4 364.3 759.8 366.1 760.6 379.2 760.7 387.5 761.3 384.7 761.9 398.6 762.5 398.4 763.1 390.1 763.7 398.6 764.1 390.8 764.4 404.7 765.0 401.9 765.7 417.1 766.2 419.2 766.8 407.2 767.5 404.2 767.9 405.3 768.7 402.4 769.3 392.6 769.9 396.5 770.6 412.3 771.2 418.0 771.7 419.8 772.4 437.6 773.0 434.9 773.3 438.6 773.7 429.3 774.3 434.9 774.9 420.5 775.5 420.9 776.1 421.7 776.5 407.2 777.4 415.5 778.2 423.1 778.6 408.1 779.3 402.7 779.9 395.9 780.5 402.4 781.1 395.0 781.4 396.4 781.7 396.5 782.3 391.9 783.0 392.0 783.6 394.9 784.2 403.5 784.7 411.3 785.4 425.6 786.1 416.3 786.8 423.3 787.3 436.6 787.9 432.1 788.5 436.2 788.5 439.0 789.0 456.8 790.0 475.5 790.4 475.9 791.3 445.7 791.6 447.6 792.3 455.8 792.9 446.7 793.3 455.0 794.1 433.7 795.0 430.2 795.4 419.7 796.0 429.7 796.6 413.6 797.2 406.0 797.8 414.9 798.5 406.4 799.0 402.7 799.7 422.2 800.4 432.2 800.9 433.3 801.6 414.0 802.2 426.1 802.5 415.9 802.8 414.0 803.4 417.1 804.0 414.0 804.7 427.9 805.3 425.3 805.9 403.8 806.3 398.7 807.1 404.1 807.8 396.6 808.5 401.6 809.0 385.0 809.6 376.6 810.2 387.8 810.9 377.3 811.5 381.8 812.3 392.4 812.7 405.3 813.3 407.3 813.9 406.8 814.6 407.3 815.0 398.9 815.8 402.1 816.4 403.7 817.2 401.2 817.7 413.6 818.3 425.7 818.9 415.8 819.5 425.7 819.9 425.4 820.2 426.9 820.8 433.3 821.4 433.3 822.0 432.3 822.6 430.2 823.3 438.7 823.9 430.2 824.2 437.8 824.5 435.6 824.8 449.8 825.1 447.3 825.7 454.7 826.4 454.7 826.9 452.1 827.5 460.8 828.2 469.9 828.8 469.9 829.6 467.3 830.1 473.2 830.7 470.6 831.3 474.8 831.9 482.9 832.6 482.9 832.9 480.2 833.4 494.9 834.0 511.4 834.4 526.2 835.0 525.9 835.7 512.1 836.3 516.1 836.7 506.7 837.5 497.8 838.3 492.9 838.8 499.0 839.4 510.5 840.0 519.4 840.6 521.9 841.2 521.9 841.5 520.4 841.9 518.8 842.5 534.8 843.1 524.5 843.7 532.4 844.3 537.9 844.8 554.2 845.6 553.0 846.2 559.3 847.0 556.6 847.5 534.3 848.1 536.7 848.4 521.4 848.7 523.1 849.3 524.1 849.7 539.7 850.5 549.8 851.2 547.3 851.8 547.6 852.4 556.0 853.1 553.3 853.6 542.6 854.0 535.0 854.3 537.1 855.1 512.9 855.5 513.2 856.1 504.5 856.7 501.8 857.3 498.8 858.0 504.2 858.6 500.2 859.4 510.9 859.8 510.1 860.5 497.4 861.1 504.6 861.7 504.6 862.3 503.1 862.7 501.9 862.7 478.1 863.6 472.2 864.3 474.3 864.8 467.0 865.4 467.4 865.7 466.9 866.0 467.8 866.8 485.3 867.3 482.2 867.9 473.9 868.6 489.0 869.1 478.9 869.8 485.1 870.0 472.0 870.4 484.3 871.0 482.4 871.3 485.0 871.4 495.7 872.2 502.4 872.9 502.4 873.5 501.1 874.0 518.7 874.7 519.7 875.3 513.4 875.7 515.1 876.0 516.9 876.6 519.7 877.3 517.7 877.8 502.1 878.4 487.2 879.1 483.1 879.5 481.3 880.3 472.9 881.1 471.8 881.5 469.6 882.2 472.5 882.7 468.4 883.4 469.9 883.8 463.3 884.6 472.1 885.4 470.4 886.0 483.0 886.5 484.0 887.1 483.6 887.6 472.9 888.4 475.3 889.2 467.1 889.6 466.1 890.2 468.1 890.8 465.0 891.5 465.3 891.9 480.7 892.7 483.5 893.5 492.7 894.1 500.0 894.6 501.1 895.2 514.9 895.8 506.0 896.4 516.5 896.8 515.1 897.7 513.4 898.3 528.4 899.0 525.8 899.5 521.7 900.1 528.4 900.6 520.8 901.4 538.6 902.2 538.1 902.6 529.2 903.2 527.0 903.9 529.8 904.5 518.8 905.1 514.7 905.5 502.9 906.3 485.3 907.0 483.7 907.8 497.6 908.2 474.1 908.6 470.1 909.4 486.2 910.1 489.9 910.9 489.0 911.3 477.0 911.7 464.3 912.5 477.0 913.2 471.1 914.0 482.6 914.4 475.9 915.0 475.2 915.5 468.4 916.3 469.8 916.9 457.6 917.4 455.7 918.1 455.6 918.6 470.5 919.4 472.9 920.2 467.0 920.6 476.4 921.2 480.3 921.7 487.5 922.5 489.5 923.1 485.8 923.7 479.1 924.1 481.0 924.3 469.8 924.9 467.8 925.6 468.4 926.2 479.0 926.8 483.0 927.2 486.3 927.4 485.9 928.0 483.2 928.7 460.5 929.0 461.7 929.3 458.9 929.9 463.9 930.6 476.7 931.1 465.3 931.8 471.1 932.1 464.6 932.4 474.0 933.0 473.8 933.6 471.7 934.1 480.1 934.9 492.1 935.7 491.8 936.1 489.9 936.7 502.3 937.2 501.0 938.0 513.1 938.8 510.7 939.2 497.9 939.8 497.9 940.3 498.4 941.1 498.7 941.5 489.3 942.3 493.4 942.9 509.7 943.4 507.6 944.2 500.9 944.5 494.9 944.8 502.6 945.4 499.5 946.0 498.6 946.5 510.4 947.3 505.5 947.9 500.8 948.5 499.2 948.8 501.4 949.1 499.8 949.7 510.0 950.4 499.2 951.1 508.2 951.6 510.0 952.2 505.9 952.8 506.0 953.2 500.8 953.5 504.1 954.2 512.1 954.7 511.6 955.3 511.6 955.8 516.9 956.6 532.4 957.0 537.1 957.8 537.7 958.4 523.1 958.9 520.1 959.7 507.8 960.3 509.9 960.9 512.3 961.5 512.0 962.0 509.3 962.8 507.4 963.1 507.7" fill="none" stroke="#2c0670" stroke-width="4.1" stroke-linejoin="round" stroke-linecap="round"/>
<!--/LINES-->
</svg>
</body></html>
